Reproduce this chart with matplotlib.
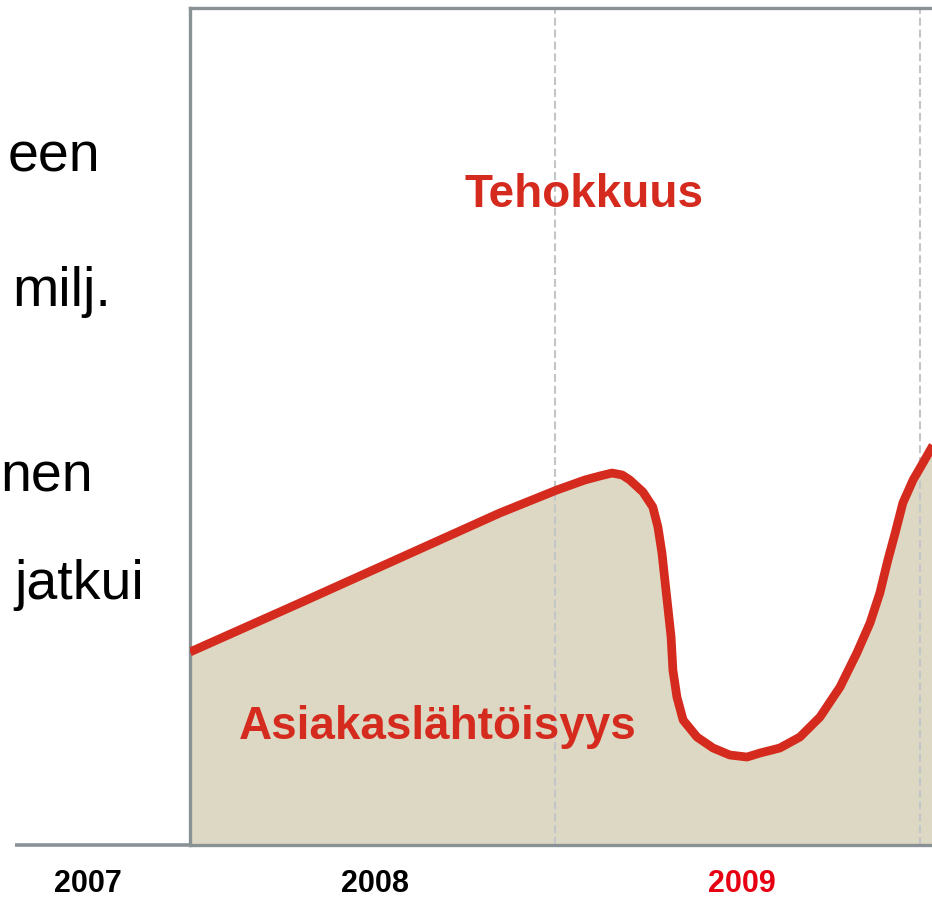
import matplotlib.pyplot as plt

# curve (x in years, y on a 0-100 index)
curve_x = [2007.500, 2007.801, 2008.075, 2008.349, 2008.505, 2008.582, 2008.623,
           2008.656, 2008.684, 2008.705, 2008.741, 2008.768, 2008.782, 2008.793,
           2008.801, 2008.810, 2008.818, 2008.823, 2008.834, 2008.851, 2008.889,
           2008.933, 2008.979, 2009.026, 2009.062, 2009.116, 2009.171, 2009.226,
           2009.281, 2009.327, 2009.363, 2009.390, 2009.412, 2009.432, 2009.453,
           2009.481, 2009.508, 2009.533, 2009.555]
curve_y = [23.06, 28.91, 34.29, 39.67, 42.41, 43.61, 44.09,
           44.44, 44.21, 43.61, 42.17, 40.38, 37.99, 34.89,
           31.66, 28.08, 24.85, 20.91, 17.68, 14.93, 12.90,
           11.59, 10.75, 10.51, 10.99, 11.59, 12.90, 15.29,
           18.88, 22.94, 26.52, 30.11, 34.05, 37.28, 40.86,
           43.61, 45.64, 47.55, 48.98]

year_labels = ['2007', '2008', '2009']
year_pos = [2007.221, 2008.008, 2009.011]
year_colors = ['black', 'black', '#e60012']
year_bounds = [2008.5, 2009.5]

side_text = ['een', 'milj.', 'nen', 'jatkui']
side_pos = [(8, 157), (12, 292), (0, 478), (14, 585)]  # pixels from top-left

red = '#d52b1e'
beige = '#ddd8c3'
gray = '#8a9195'

fig = plt.figure(figsize=(9.32, 9.02), dpi=100)
W, H = 932, 902
ax = fig.add_axes([190 / W, (H - 845) / H, 1 - 190 / W, (845 - 8) / H])

ax.set_xlim(2007.5, 2007.5 + (W - 190) / 365)
ax.set_ylim(0, 100)

ax.fill_between(curve_x, curve_y, 0, color=beige, lw=0, zorder=1)
for b in year_bounds:
    ax.plot([b, b], [0, 100], color='#c3c6c8', lw=1.5, dashes=(3.8, 1.9), zorder=2)
ax.plot(curve_x, curve_y, color=red, lw=6.3, solid_capstyle='butt',
        solid_joinstyle='round', zorder=3)

ax.text(2008.58, 77.7, 'Tehokkuus', color=red, fontsize=33, fontweight='bold',
        family='Liberation Sans', ha='center', va='center', zorder=4)
ax.text(2008.18, 14.1, 'Asiakaslähtöisyys', color=red, fontsize=33,
        fontweight='bold', family='Liberation Sans', ha='center', va='center', zorder=4)

for lab, xp, c in zip(year_labels, year_pos, year_colors):
    ax.text(xp, -4.7, lab, color=c, fontsize=22, fontweight='bold',
            family='Liberation Sans', ha='center', va='center', clip_on=False)

for s in ['left', 'top', 'bottom']:
    ax.spines[s].set_color(gray)
    ax.spines[s].set_linewidth(2.4)
ax.spines['right'].set_visible(False)
ax.plot([2007.02, 2007.5], [0, 0], color=gray, lw=2.6, clip_on=False,
        solid_capstyle='butt', zorder=5)
ax.set_xticks([])
ax.set_yticks([])

for t, (px, py) in zip(side_text, side_pos):
    fig.text(px / W, 1 - py / H, t, fontsize=40, family='Liberation Sans',
             ha='left', va='center', color='black')

fig.savefig('out.png', dpi=100)
